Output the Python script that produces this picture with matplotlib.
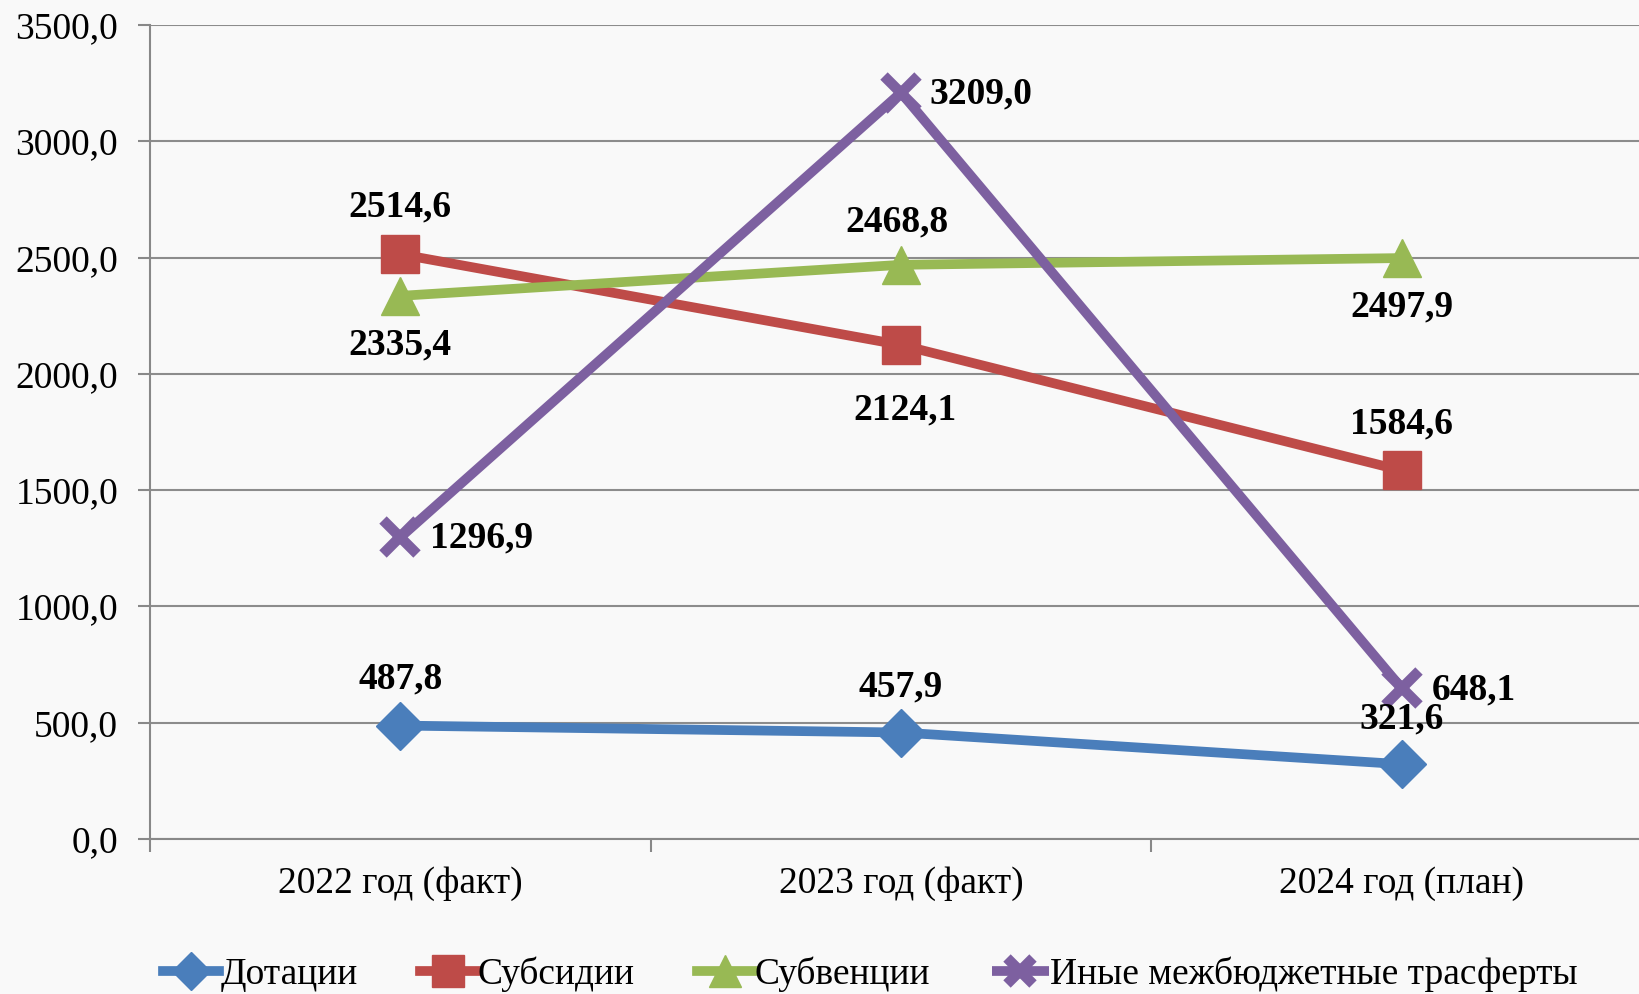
import numpy as np
import matplotlib
matplotlib.use("Agg")
import matplotlib.pyplot as plt
from matplotlib.ticker import FuncFormatter

plt.rcParams["font.family"] = ["Liberation Serif", "DejaVu Serif"]

years = ["2022 год (факт)", "2023 год (факт)", "2024 год (план)"]
dotacii = [487.8, 457.9, 321.6]
subsidii = [2514.6, 2124.1, 1584.6]
subvencii = [2335.4, 2468.8, 2497.9]
inye = [1296.9, 3209.0, 648.1]
names = ["Дотации", "Субсидии", "Субвенции", "Иные межбюджетные трасферты"]

C = ["#4a7ebb", "#be4b48", "#98b954", "#7d60a0"]
MK = ["D", "s", "^", "X"]
MS = [24, 28, 28, 24]
# label offsets in pixels (dx, dy, ha)
offs = [
    [(0, 47, "center"), (0, 46, "center"), (0, 45, "center")],
    [(0, 47, "center"), (4, -65, "center"), (0, 46, "center")],
    [(0, -49, "center"), (-4, 43, "center"), (0, -49, "center")],
    [(30, -1, "left"), (28, -1, "left"), (30, -2, "left")],
]

fig = plt.figure(figsize=(16.39, 9.94), dpi=100, facecolor="#f9f9f9")
ax = fig.add_axes([150 / 1639, 1 - 839 / 994, 1502 / 1639, 814 / 994])
ax.set_facecolor("none")
x = np.arange(len(years))

for k, ser in enumerate([dotacii, subsidii, subvencii, inye]):
    if MK[k] == "X":
        ax.plot(x, ser, color=C[k], lw=7, label=names[k], zorder=3,
                marker="x", ms=MS[k], mew=7.5, solid_capstyle="butt")
    else:
        ax.plot(x, ser, color=C[k], lw=7, label=names[k], zorder=3,
                marker=MK[k], ms=MS[k], mec=C[k], mfc=C[k])
    for xi, v, (dx, dy, ha) in zip(x, ser, offs[k]):
        ax.annotate(f"{v:.1f}".replace(".", ","), (xi, v), xytext=(dx, dy),
                    textcoords="offset pixels", ha=ha, va="center",
                    fontsize=27, fontweight="bold", zorder=5)

ax.set_xlim(-0.5, 2.5)
ax.set_ylim(0, 3500)
ax.set_yticks(np.arange(0, 3501, 500))
ax.yaxis.set_major_formatter(FuncFormatter(lambda v, p: f"{v:.1f}".replace(".", ",")))
ax.set_xticks(x)
ax.set_xticklabels(years)
ax.set_xticks([-0.5, 0.5, 1.5, 2.5], minor=True)
ax.tick_params(axis="x", which="major", length=0, pad=20, labelsize=27)
ax.tick_params(axis="x", which="minor", length=9, width=1.5, color="#888888", direction="out")
ax.tick_params(axis="y", length=9, width=1.5, color="#888888", pad=14, labelsize=27)
ax.grid(axis="y", color="#8c8c8c", lw=1.5)
ax.set_axisbelow(True)
for s in ["top", "right"]:
    ax.spines[s].set_visible(False)
for s in ["left", "bottom"]:
    ax.spines[s].set_color("#888888")
    ax.spines[s].set_linewidth(1.5)

leg = fig.legend(loc="center", bbox_to_anchor=(0.531, 0.02), ncol=4, frameon=False,
                 fontsize=27, handlelength=1.5, handletextpad=0.05, columnspacing=1.65,
                 markerscale=0.8)

fig.savefig("out.png", dpi=100, facecolor=fig.get_facecolor())
